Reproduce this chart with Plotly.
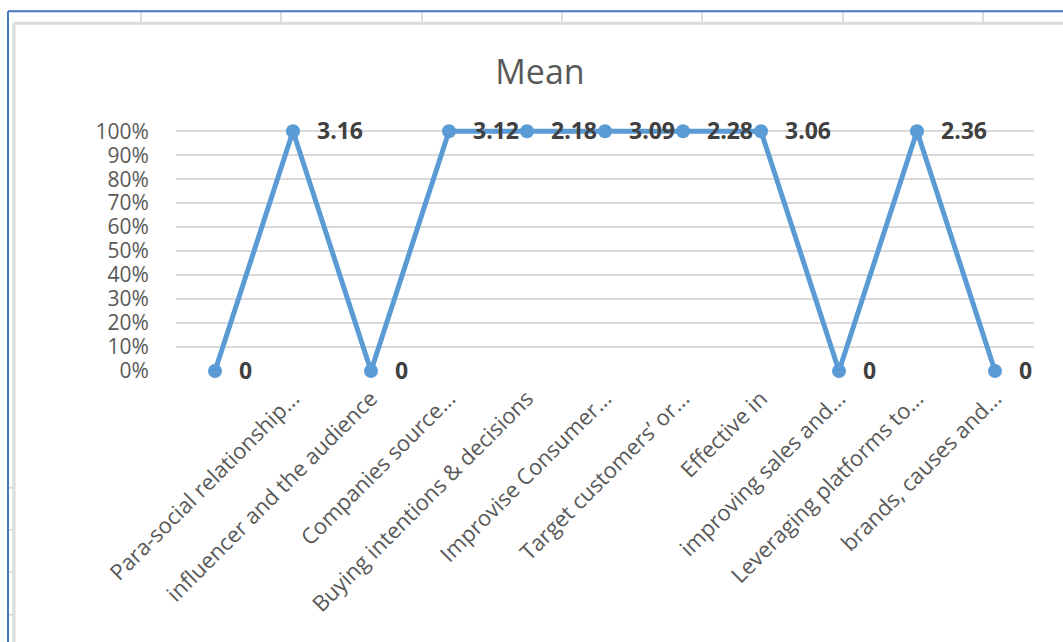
import plotly.graph_objects as go

# Survey items (first row of the source range is blank) and their mean scores
categories = [
    "",
    "Para-social relationship...",
    "influencer and the audience",
    "Companies source...",
    "Buying intentions & decisions",
    "Improvise Consumer...",
    "Target customers’ or...",
    "Effective in",
    "improving sales and...",
    "Leveraging platforms to...",
    "brands, causes and...",
]
mean_values = [0, 3.16, 0, 3.12, 2.18, 3.09, 2.28, 3.06, 0, 2.36, 0]
y_ticks = [i / 10 for i in range(11)]

# 100% stacked line: each point is its share of the category total
series = [mean_values]
totals = [sum(s[i] for s in series) for i in range(len(categories))]
share = [v / t if t else 0 for v, t in zip(mean_values, totals)]
x_idx = list(range(len(categories)))

W, H = 1063, 642
Y_TOP, Y_BOT = 131, 371          # pixel rows of 100% and 0%
X_LEFT, X_RIGHT = 176, 1034
PAD = 0.03                       # headroom so the 100% line is not clipped
unit = (Y_BOT - Y_TOP)           # pixels per 1.0 on the y axis
ML, MR = X_LEFT, W - X_RIGHT
MT = Y_TOP - PAD * unit
MB = H - Y_BOT
PW, PH = W - ML - MR, H - MT - MB

def px_x(p):
    return (p - ML) / PW

def px_y(p):
    return (H - MB - p) / PH

BLUE = "#5b9bd5"
GRID = "#d9d9d9"
TXT = "#595959"

fig = go.Figure()
fig.add_trace(go.Scatter(
    x=x_idx, y=share, mode="lines+markers",
    line=dict(color=BLUE, width=5),
    marker=dict(color=BLUE, size=14),
    cliponaxis=False, hoverinfo="skip", showlegend=False,
))

annotations = []
for xi, yi, v in zip(x_idx, share, mean_values):
    annotations.append(dict(
        x=xi, y=yi, xref="x", yref="y", text=f"<b>{v:g}</b>",
        showarrow=False, xanchor="left", yanchor="middle", xshift=22, yshift=1,
        font=dict(family="Open Sans", size=23, color="#404040"),
    ))

# Worksheet frame around the chart object
shapes = []
def line(x0, y0, x1, y1, color, width):
    shapes.append(dict(type="line", xref="paper", yref="paper",
                       x0=px_x(x0), y0=px_y(y0), x1=px_x(x1), y1=px_y(y1),
                       line=dict(color=color, width=width), layer="below"))

for cx in [141, 281, 422, 562, 702, 843, 983]:
    line(cx, 11, cx, 23, "#d4d4d4", 1.5)
for cy in [488, 530, 572, 615]:
    line(8, cy, 14, cy, "#d4d4d4", 1.5)
line(14, 23, W + 5, 23, "#dcdcdc", 3)
line(14, 23, 14, H + 5, "#dcdcdc", 3)
line(8, 11, W + 5, 11, "#4472c4", 2)
line(8, 11, 8, H + 5, "#4472c4", 2)

fig.update_layout(
    width=W, height=H,
    margin=dict(l=ML, r=MR, t=MT, b=MB, autoexpand=False),
    paper_bgcolor="white", plot_bgcolor="white",
    font=dict(family="Open Sans", color=TXT),
    title=dict(text="Mean", x=540 / W, xref="container", xanchor="center",
               y=1 - 72 / H, yref="container", yanchor="middle",
               font=dict(family="Open Sans", size=34, color=TXT)),
    xaxis=dict(
        range=[-0.5, len(categories) - 0.5],
        tickmode="array", tickvals=x_idx, ticktext=categories,
        tickangle=-45, showgrid=False, zeroline=False, showline=False,
        ticks="outside", ticklen=5, tickcolor="rgba(0,0,0,0)",
        tickfont=dict(family="Open Sans", size=22, color=TXT),
    ),
    yaxis=dict(
        range=[0, 1 + PAD], tickmode="array", tickvals=y_ticks, tickformat=".0%",
        showgrid=True, gridcolor=GRID, gridwidth=2, zeroline=False, showline=False,
        ticks="outside", ticklen=22, tickcolor="rgba(0,0,0,0)",
        tickfont=dict(family="Open Sans", size=21, color=TXT),
    ),
    annotations=annotations, shapes=shapes,
)

fig.write_html("out.html")
